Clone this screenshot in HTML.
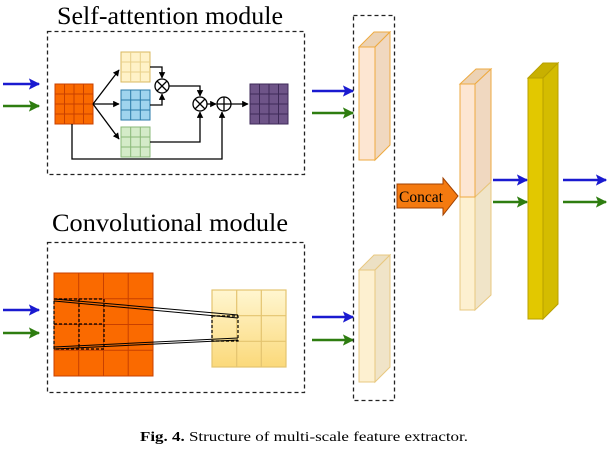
<!DOCTYPE html>
<html><head><meta charset="utf-8"><style>
html,body{margin:0;padding:0;background:#fff;}
svg{display:block;}
text{font-family:"Liberation Serif",serif;}
</style></head><body>
<svg width="609" height="450" viewBox="0 0 609 450" xmlns="http://www.w3.org/2000/svg">
<defs>
<marker id="ab" viewBox="0 0 10 10" refX="9" refY="5" markerWidth="5.5" markerHeight="4.5" orient="auto"><path d="M0,0 L10,5 L0,10 L2,5 z" fill="#1a1ad0"/></marker>
<marker id="ag" viewBox="0 0 10 10" refX="9" refY="5" markerWidth="5.5" markerHeight="4.5" orient="auto"><path d="M0,0 L10,5 L0,10 L2,5 z" fill="#2e7d10"/></marker>
<marker id="ak" viewBox="0 0 10 10" refX="9" refY="5" markerWidth="5" markerHeight="5" orient="auto"><path d="M0,0 L10,5 L0,10 z" fill="#000"/></marker>
<linearGradient id="yg" x1="0" y1="0" x2="0" y2="1"><stop offset="0" stop-color="#fff6d0"/><stop offset="1" stop-color="#fbd97a"/></linearGradient>
</defs>

<text x="57" y="24" font-size="25" textLength="226" lengthAdjust="spacingAndGlyphs">Self-attention module</text>
<rect x="47.5" y="31.5" width="257" height="143" fill="none" stroke="#222" stroke-width="1.3" stroke-dasharray="4,3"/>

<g stroke="#c84000" stroke-width="1">
<rect x="55" y="84" width="38" height="40" fill="#fa6a00"/>
<path d="M64.5 84V124M74 84V124M83.5 84V124M55 94H93M55 104H93M55 114H93" stroke="#c84000"/>
</g>
<g stroke="#d8b860">
<rect x="121" y="52" width="29" height="30" fill="#fff2c8"/>
<path d="M130.7 52V82M140.3 52V82M121 62H150M121 72H150" stroke="#e8d08a"/>
</g>
<g stroke="#2a7aa8">
<rect x="121" y="90" width="29" height="30" fill="#9fd4ee"/>
<path d="M130.7 90V120M140.3 90V120M121 100H150M121 110H150"/>
</g>
<g stroke="#8ab878">
<rect x="121" y="127" width="29" height="30" fill="#d4ebc8"/>
<path d="M130.7 127V157M140.3 127V157M121 137H150M121 147H150"/>
</g>
<g stroke="#3e2a58">
<rect x="250" y="84" width="38" height="40" fill="#6e5488"/>
<path d="M259.5 84V124M269 84V124M278.5 84V124M250 94H288M250 104H288M250 114H288"/>
</g>
<g stroke="#000" stroke-width="1.3" fill="none">
<path d="M93 104 L119 70" marker-end="url(#ak)"/>
<path d="M93 104 L119 104" marker-end="url(#ak)"/>
<path d="M93 104 L119 139" marker-end="url(#ak)"/>
<path d="M150 67 H162 V78" marker-end="url(#ak)"/>
<path d="M150 105 H162 V94" marker-end="url(#ak)"/>
<path d="M169 86 H200 V96" marker-end="url(#ak)"/>
<path d="M150 142 H200 V112" marker-end="url(#ak)"/>
<path d="M207 104 H216" marker-end="url(#ak)"/>
<path d="M231 104 H248" marker-end="url(#ak)"/>
<path d="M72 124 V159 H222 V112" marker-end="url(#ak)"/>
<circle cx="162" cy="86" r="7" fill="#fff"/>
<path d="M157 81 L167 91 M167 81 L157 91"/>
<circle cx="200" cy="104" r="7" fill="#fff"/>
<path d="M195 99 L205 109 M205 99 L195 109"/>
<circle cx="224" cy="104" r="7" fill="#fff"/>
<path d="M217 104 H231 M224 97 V111"/>
</g>

<g stroke-width="2.5" fill="none">
<path d="M3 84 H39" stroke="#1a1ad0" marker-end="url(#ab)"/>
<path d="M3 106 H39" stroke="#2e7d10" marker-end="url(#ag)"/>
<path d="M3 310 H39" stroke="#1a1ad0" marker-end="url(#ab)"/>
<path d="M3 333 H39" stroke="#2e7d10" marker-end="url(#ag)"/>
<path d="M312 91 H353" stroke="#1a1ad0" marker-end="url(#ab)"/>
<path d="M312 113 H353" stroke="#2e7d10" marker-end="url(#ag)"/>
<path d="M312 317 H353" stroke="#1a1ad0" marker-end="url(#ab)"/>
<path d="M312 340 H353" stroke="#2e7d10" marker-end="url(#ag)"/>
<path d="M493 180 H527" stroke="#1a1ad0" marker-end="url(#ab)"/>
<path d="M493 202 H527" stroke="#2e7d10" marker-end="url(#ag)"/>
<path d="M563 180 H606" stroke="#1a1ad0" marker-end="url(#ab)"/>
<path d="M563 202 H606" stroke="#2e7d10" marker-end="url(#ag)"/>
</g>

<text x="52" y="231" font-size="25" textLength="236" lengthAdjust="spacingAndGlyphs">Convolutional module</text>
<rect x="47.5" y="242.5" width="257" height="150" fill="none" stroke="#222" stroke-width="1.3" stroke-dasharray="4,3"/>
<g stroke="#c84000" stroke-width="1">
<rect x="54" y="273" width="99" height="103" fill="#fa6a00"/>
<path d="M78.7 273V376M103.5 273V376M128.2 273V376M54 298.7H153M54 324.5H153M54 350.2H153"/>
</g>
<g stroke="#e4c470" stroke-width="1.2">
<rect x="212" y="290" width="74" height="77" fill="url(#yg)"/>
<path d="M236.7 290V367M261.3 290V367M212 315.7H286M212 341.3H286"/>
</g>
<g stroke="#000" stroke-width="1" fill="none">
<path d="M54 299 L238 315"/><path d="M54 301 L238 318"/>
<path d="M54 349 L238 340"/><path d="M54 347 L238 338"/>
</g>
<g stroke="#000" stroke-width="1.2" fill="none" stroke-dasharray="3,2">
<rect x="54" y="299" width="50" height="50"/>
<path d="M79 299V349M54 324H104"/>
<rect x="212" y="316" width="26" height="25"/>
</g>

<rect x="353.5" y="15.5" width="41" height="385" fill="none" stroke="#222" stroke-width="1.3" stroke-dasharray="4,3"/>

<g stroke="#eeaa40" stroke-width="1">
<path d="M359 47 L374 32 L390 32 L375 47 Z" fill="#ecd2b4"/>
<path d="M375 47 L390 32 L390 145 L375 160 Z" fill="#f0d8c0"/>
<rect x="359" y="47" width="16" height="113" fill="#fde6d2"/>
</g>
<g stroke="#e8c880" stroke-width="1">
<path d="M359 270 L374 255 L390 255 L375 270 Z" fill="#ece0c4"/>
<path d="M375 270 L390 255 L390 367 L375 382 Z" fill="#f0e4c8"/>
<rect x="359" y="270" width="16" height="112" fill="#fdf0d0"/>
</g>

<path d="M397 184 H443 V178 L458 196 L443 215 V208 H397 Z" fill="#f47a10" stroke="#a04000" stroke-width="1"/>
<text x="399" y="202" font-size="16" textLength="44" lengthAdjust="spacingAndGlyphs">Concat</text>

<g stroke-width="1">
<path d="M460 84 L476 69 L491 69 L475 84 Z" fill="#ecd2b4" stroke="#eeaa40"/>
<path d="M475 84 L491 69 L491 182 L475 197 Z" fill="#f0d8c0" stroke="#eeaa40"/>
<path d="M475 197 L491 182 L491 295 L475 310 Z" fill="#f0e4c8" stroke="#e8c880"/>
<rect x="460" y="197" width="15" height="113" fill="#fdf0d0" stroke="#e8c880"/>
<rect x="460" y="84" width="15" height="113" fill="#fde6d2" stroke="#eeaa40"/>
</g>

<g stroke="#b8a000" stroke-width="1">
<path d="M528 78 L543 63 L558 63 L543 78 Z" fill="#c8b000"/>
<path d="M543 78 L558 63 L558 304 L543 319 Z" fill="#d4bc00"/>
<rect x="528" y="78" width="15" height="241" fill="#e2c800"/>
</g>

<text x="140" y="441" font-size="14" textLength="328" lengthAdjust="spacingAndGlyphs"><tspan font-weight="bold">Fig. 4.</tspan>  Structure of multi-scale feature extractor.</text>
</svg>
</body></html>
